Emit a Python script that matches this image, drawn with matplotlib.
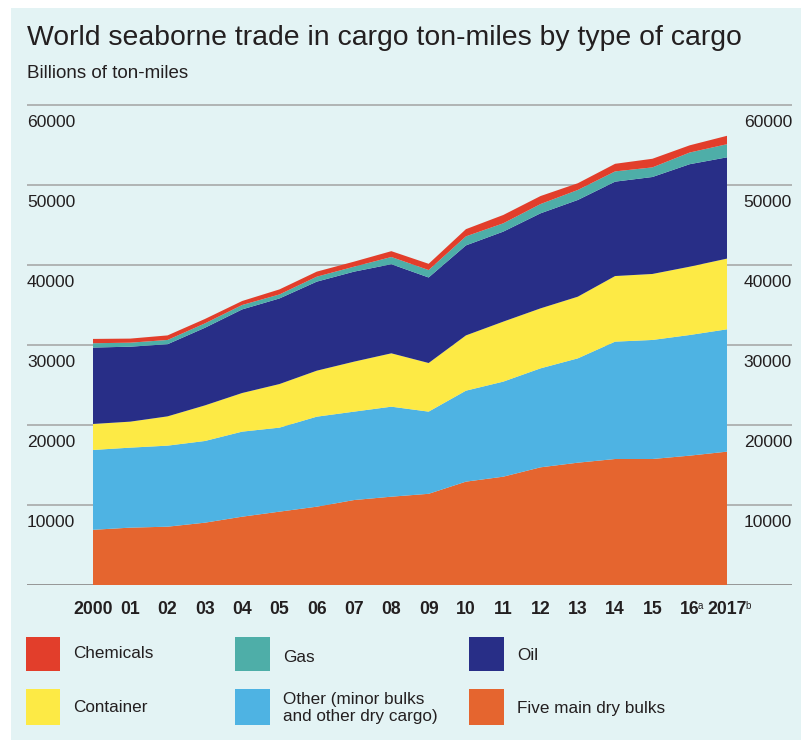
import matplotlib
matplotlib.use("Agg")
import matplotlib.pyplot as plt
from matplotlib.patches import Rectangle
from matplotlib.transforms import ScaledTranslation

plt.rcParams['font.family'] = ['Liberation Sans', 'DejaVu Sans']

years = list(range(2000, 2018))
year_labels = ['2000', '01', '02', '03', '04', '05', '06', '07', '08', '09',
               '10', '11', '12', '13', '14', '15', '16', '2017']
year_notes = ['', '', '', '', '', '', '', '', '', '', '', '', '', '', '', '', 'a', 'b']

five_main_dry_bulks = [6900, 7170, 7290, 7790, 8540, 9170, 9790, 10620, 11040, 11400,
                       12920, 13540, 14710, 15290, 15750, 15750, 16170, 16670]
other_dry = [9980, 10000, 10130, 10210, 10630, 10500, 11250, 11050, 11250, 10270,
             11370, 11880, 12370, 13040, 14670, 14880, 15080, 15290]
container = [3250, 3250, 3660, 4450, 4830, 5450, 5750, 6250, 6670, 6080,
             6910, 7500, 7500, 7710, 8200, 8250, 8540, 8840]
oil = [9550, 9370, 9020, 9700, 10450, 10700, 11130, 11250, 11140, 10690,
       11250, 11250, 11880, 12090, 11800, 12120, 12810, 12660]
gas = [540, 500, 530, 550, 550, 500, 620, 620, 900, 930,
       1130, 1040, 1160, 1250, 1280, 1200, 1460, 1640]
chemicals = [540, 510, 570, 550, 500, 630, 630, 630, 730, 780,
             900, 1040, 1000, 840, 950, 1080, 900, 1050]

series_names = ['Five main dry bulks', 'Other (minor bulks\nand other dry cargo)',
                'Container', 'Oil', 'Gas', 'Chemicals']
series_colors = ['#e5652f', '#4eb3e3', '#fdea45', '#282e87', '#4eaea8', '#e23e2b']
y_ticks = [10000, 20000, 30000, 40000, 50000, 60000]

W, H, DPI = 801, 740, 100
bg = '#e3f3f4'
txt = '#231f20'

fig = plt.figure(figsize=(W / DPI, H / DPI), dpi=DPI)
fig.patch.set_facecolor('white')
fig.patches.append(Rectangle((11 / W, 0), 1 - 11 / W, (H - 8) / H,
                             transform=fig.transFigure, facecolor=bg,
                             edgecolor='none', zorder=-10))

def fx(px):
    return px / W

def fy(py):
    return (H - py) / H

# axes: x pixels 27..792, y pixels 95..585
ax = fig.add_axes([fx(27), fy(585), fx(792) - fx(27), fy(95) - fy(585)])
ax.set_facecolor('none')
ppy = (727 - 93) / 17.0
ax.set_xlim(2000 - (93 - 27) / ppy, 2017 + (792 - 727) / ppy)
ax.set_ylim(0, 60000 * 490 / 480)
for s in ax.spines.values():
    s.set_visible(False)
ax.set_xticks([])
ax.set_yticks([])

for v in y_ticks:
    ax.axhline(v, color='#a3a3a3', lw=1.1, zorder=0)
ax.axhline(0, color='#8f8f8f', lw=1.3, zorder=0)

ax.stackplot(years, five_main_dry_bulks, other_dry, container, oil, gas, chemicals,
             colors=series_colors, linewidth=0, zorder=2)

# y tick labels sit just below their gridlines, on both sides
off_y = ScaledTranslation(0, -22 / DPI, fig.dpi_scale_trans)
ytr = ax.get_yaxis_transform() + off_y
for v in y_ticks:
    ax.text(0, v, str(v), transform=ytr, ha='left', va='baseline',
            fontsize=12.6, color=txt)
    ax.text(1, v, str(v), transform=ytr, ha='right', va='baseline',
            fontsize=12.6, color=txt)

# x labels
off_x = ScaledTranslation(0, -29 / DPI, fig.dpi_scale_trans)
xtr = ax.get_xaxis_transform() + off_x
renderer = fig.canvas.get_renderer()
for yr, lab, note in zip(years, year_labels, year_notes):
    t = ax.text(yr, 0, lab, transform=xtr, ha='center', va='baseline',
                fontsize=12.7, fontweight='bold', color=txt)
    if note:
        bb = t.get_window_extent(renderer)
        fig.text((bb.x1 - 1.5) / W, fy(601), note, ha='left', va='top',
                 fontsize=7.0, color=txt)

# title
fig.text(fx(27), fy(45), 'World seaborne trade in cargo ton-miles by type of cargo',
         ha='left', va='baseline', fontsize=20.4, color=txt)
fig.text(fx(27), fy(78.5), 'Billions of ton-miles', ha='left', va='baseline',
         fontsize=13.5, color=txt)

# legend (manual, 3 columns x 2 rows)
legend_order = [5, 4, 3, 2, 1, 0]
col_x = [25.5, 235, 469]
row_y = [(637, 671), (689, 725)]
text_y = [[653, 657, 655], [708, 708, 708]]
for i, idx in enumerate(legend_order):
    r, c = divmod(i, 3)
    x0 = col_x[c]
    y0, y1 = row_y[r]
    fig.patches.append(Rectangle((fx(x0), fy(y1)), fx(x0 + 34.5) - fx(x0), fy(y0) - fy(y1),
                                 transform=fig.transFigure, facecolor=series_colors[idx],
                                 edgecolor='none'))
    fig.text(fx(x0 + 48), fy(text_y[r][c]), series_names[idx], ha='left', va='center',
             fontsize=12.3, color=txt, linespacing=1.15)

fig.savefig('out.png', dpi=DPI, facecolor='white')
